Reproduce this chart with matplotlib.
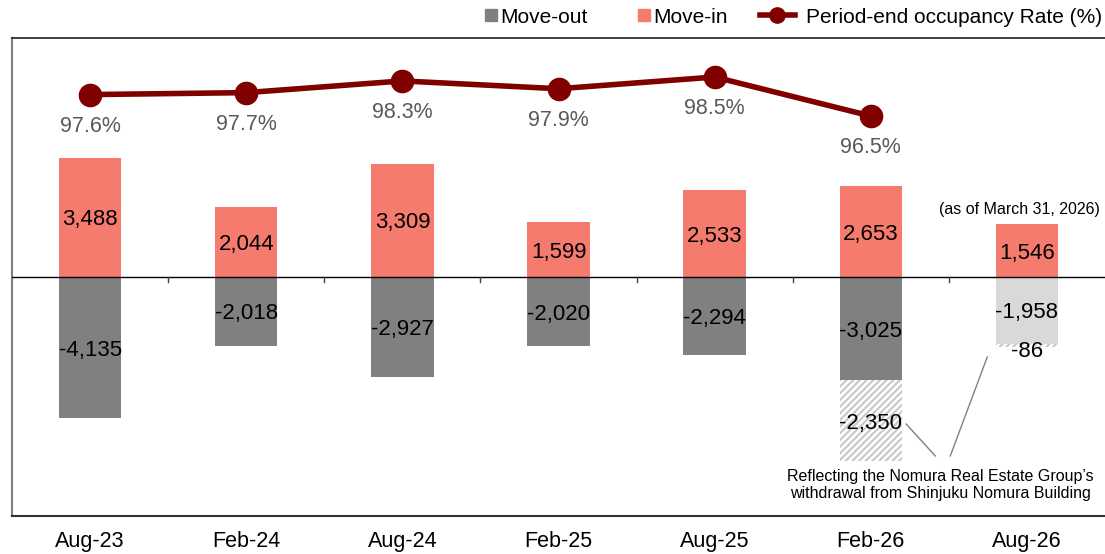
import matplotlib

matplotlib.use("Agg")

import matplotlib.pyplot as plt
from matplotlib.lines import Line2D
import numpy as np

plt.rcParams["font.family"] = ["Liberation Sans", "DejaVu Sans"]
plt.rcParams["hatch.linewidth"] = 1.5

periods = ["Aug-23", "Feb-24", "Aug-24", "Feb-25", "Aug-25", "Feb-26", "Aug-26"]
move_in = [3488, 2044, 3309, 1599, 2533, 2653, 1546]
move_out = [-4135, -2018, -2927, -2020, -2294, -3025, -1958]
# Nomura Real Estate Group withdrawal from Shinjuku Nomura Building
withdrawal = [0, 0, 0, 0, 0, -2350, -86]
occupancy = [97.6, 97.7, 98.3, 97.9, 98.5, 96.5]

MOVE_IN_COLOR = "#f47b6e"
MOVE_OUT_COLOR = "#808080"
FORECAST_OUT_COLOR = "#d9d9d9"
LINE_COLOR = "#800000"

x = np.arange(len(periods))
width = 0.40

fig = plt.figure(figsize=(11.05, 5.54), dpi=100)
ax = fig.add_axes([0.0109, 0.0686, 0.9891, 0.8628])

out_colors = [MOVE_OUT_COLOR] * (len(periods) - 1) + [FORECAST_OUT_COLOR]
ax.bar(x, move_in, width, color=MOVE_IN_COLOR, zorder=2)
ax.bar(x, move_out, width, color=out_colors, zorder=2)
hatched = [i for i, v in enumerate(withdrawal) if v != 0]
ax.bar(x[hatched], [withdrawal[i] for i in hatched], width,
       bottom=[move_out[i] for i in hatched], color="white",
       edgecolor="#c8c8c8", hatch="/////", linewidth=0, zorder=2)

for i in range(len(periods)):
    ax.text(x[i], move_in[i] / 2, f"{move_in[i]:,}", ha="center", va="center_baseline",
            fontsize=16, zorder=4)
    ax.text(x[i], move_out[i] / 2, f"{move_out[i]:,}", ha="center", va="center_baseline",
            fontsize=16, zorder=4)
    if withdrawal[i] != 0:
        yc = move_out[i] + withdrawal[i] / 2
        if abs(withdrawal[i]) < 500:
            yc = move_out[i] + withdrawal[i] - 60
        ax.text(x[i], yc, f"{withdrawal[i]:,}", ha="center", va="center_baseline", fontsize=16, zorder=4)

ax.axhline(0, color="black", linewidth=1, zorder=3)
for b in x[:-1] + 0.5:
    ax.plot([b, b], [0, -150], color="#404040", linewidth=1, zorder=3)

ax.set_xlim(-0.5, len(periods) - 0.5)
ax.set_ylim(-6990, 6990)
ax.set_yticks([])
ax.set_xticks(x)
ax.set_xticklabels(periods, fontsize=15.5)
ax.tick_params(axis="x", length=0, pad=11)
ax.spines["right"].set_visible(False)
ax.spines["left"].set_color("#808080")
ax.spines["left"].set_linewidth(1.5)
ax.spines["top"].set_color("#202020")
ax.spines["top"].set_linewidth(1.2)
ax.spines["bottom"].set_color("#303030")
ax.spines["bottom"].set_linewidth(1.5)

ax2 = ax.twinx()
ax2.set_ylim(76.0, 100.5)
ax2.axis("off")
xl = x[:len(occupancy)]
ax2.plot(xl, occupancy, color=LINE_COLOR, linewidth=4, marker="o", markersize=16, zorder=5)
for xi, v in zip(xl, occupancy):
    ax2.annotate(f"{v}%", (xi, v), xytext=(0, -23), textcoords="offset points", ha="center",
                 va="center", fontsize=15.5, color="#595959")

ax.text(5.95, 1960, "(as of March 31, 2026)", ha="center", va="center", fontsize=11.5)
ax.text(5.445, -6080, "Reflecting the Nomura Real Estate Group\u2019s\nwithdrawal from Shinjuku Nomura Building",
        ha="center", va="center", fontsize=11.5, linespacing=1.2)
ax.plot([5.227, 5.413], [-4300, -5234], color="#808080", linewidth=1, zorder=4)
ax.plot([5.509, 5.746], [-5234, -2340], color="#808080", linewidth=1, zorder=4)

square_handles = [
    Line2D([], [], color=MOVE_OUT_COLOR, marker="s", linestyle="none", markersize=9),
    Line2D([], [], color=MOVE_IN_COLOR, marker="s", linestyle="none", markersize=9),
]
fig.legend(square_handles, ["Move-out", "Move-in"],
           loc="upper right", bbox_to_anchor=(0.676, 1.02), ncol=2, frameon=False,
           fontsize=15, handlelength=0.6, handletextpad=0.15, columnspacing=2.4)
line_handle = [Line2D([], [], color=LINE_COLOR, marker="o", linewidth=4, markersize=11)]
fig.legend(line_handle, ["Period-end occupancy Rate (%)"],
           loc="upper right", bbox_to_anchor=(1.014, 1.02), frameon=False,
           fontsize=15, handlelength=1.7, handletextpad=0.5)

fig.savefig("out.png", dpi=100)
